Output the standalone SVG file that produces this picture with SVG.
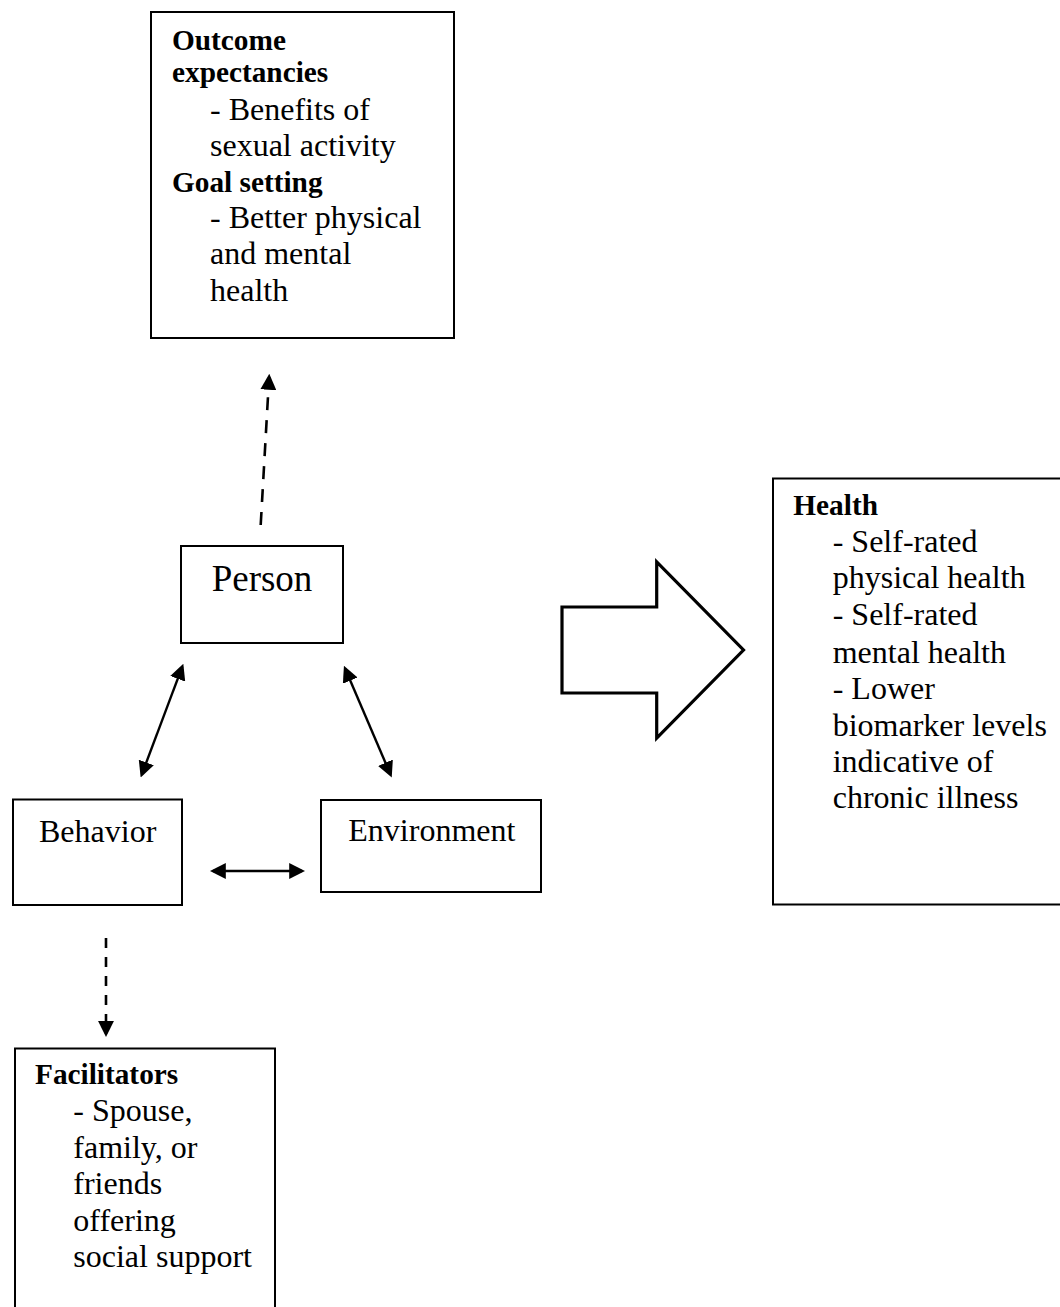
<svg xmlns="http://www.w3.org/2000/svg" width="1060" height="1307" viewBox="0 0 1060 1307">
<defs>
<style>
.box{fill:#fff;stroke:#000;stroke-width:2}
.t{font-family:"Liberation Serif","Times New Roman",serif;font-size:32px;fill:#000}
.b{font-family:"Liberation Serif","Times New Roman",serif;font-size:29.3px;font-weight:bold;fill:#000}
.p{font-family:"Liberation Serif","Times New Roman",serif;font-size:37px;fill:#000}
.solid{stroke:#000;stroke-width:2.4;fill:none;marker-start:url(#ah);marker-end:url(#ah)}
.dash{stroke:#000;stroke-width:2.6;fill:none;marker-end:url(#ah)}
</style>
<marker id="ah" markerUnits="userSpaceOnUse" markerWidth="16" markerHeight="16" viewBox="0 0 15 15" refX="12" refY="7.5" orient="auto-start-reverse">
<path d="M0,0 L15,7.5 L0,15 z" fill="#000"/>
</marker>
</defs>
<rect width="1060" height="1307" fill="#fff"/>

<g id="outcome">
<rect class="box" x="151" y="12" width="303" height="326"/>
<text class="b" x="172" y="50">Outcome</text>
<text class="b" x="172" y="82">expectancies</text>
<text class="t" x="210" y="119.5">- Benefits of</text>
<text class="t" x="210" y="156">sexual activity</text>
<text class="b" x="172" y="192">Goal setting</text>
<text class="t" x="210" y="227.5">- Better physical</text>
<text class="t" x="210" y="264">and mental</text>
<text class="t" x="210" y="300.5">health</text>
</g>

<g id="person">
<rect class="box" x="181" y="546" width="162" height="97"/>
<text class="p" x="262" y="591" text-anchor="middle">Person</text>
</g>

<g id="behavior">
<rect class="box" x="13" y="799.5" width="169" height="105.5"/>
<text class="t" x="39" y="841.7">Behavior</text>
</g>

<g id="environment">
<rect class="box" x="321" y="800" width="220" height="92"/>
<text class="t" x="348.3" y="841">Environment</text>
</g>

<g id="health">
<rect class="box" x="773" y="478.5" width="300" height="426"/>
<text class="b" x="793.3" y="515">Health</text>
<text class="t" x="832.7" y="551.7">- Self-rated</text>
<text class="t" x="832.7" y="588.4">physical health</text>
<text class="t" x="832.7" y="625.1">- Self-rated</text>
<text class="t" x="832.7" y="662.5">mental health</text>
<text class="t" x="832.7" y="699.3">- Lower</text>
<text class="t" x="832.7" y="735.6">biomarker levels</text>
<text class="t" x="832.7" y="771.9">indicative of</text>
<text class="t" x="832.7" y="808.3">chronic illness</text>
</g>

<g id="facilitators">
<rect class="box" x="15" y="1048.5" width="260" height="280"/>
<text class="b" x="35" y="1084.3">Facilitators</text>
<text class="t" x="73.3" y="1121">- Spouse,</text>
<text class="t" x="73.3" y="1157.5">family, or</text>
<text class="t" x="73.3" y="1194">friends</text>
<text class="t" x="73.3" y="1230.7">offering</text>
<text class="t" x="73.3" y="1267.3">social support</text>
</g>

<g id="big-arrow">
<polygon points="562,607 656.7,607 656.7,562 743.5,650 656.7,738 656.7,693 562,693" fill="#fff" stroke="#000" stroke-width="3.2" stroke-linejoin="miter"/>
</g>

<g id="connectors">
<line class="dash" x1="260.7" y1="525" x2="269.1" y2="377" stroke-dasharray="13 10"/>
<line class="dash" x1="106" y1="938" x2="106" y2="1033.7" stroke-dasharray="10 9"/>
<line class="solid" x1="141.8" y1="774.5" x2="182.2" y2="666.8"/>
<line class="solid" x1="345.2" y1="668.8" x2="390.5" y2="774.5"/>
<line class="solid" x1="213" y1="871" x2="302" y2="871"/>
</g>
</svg>
